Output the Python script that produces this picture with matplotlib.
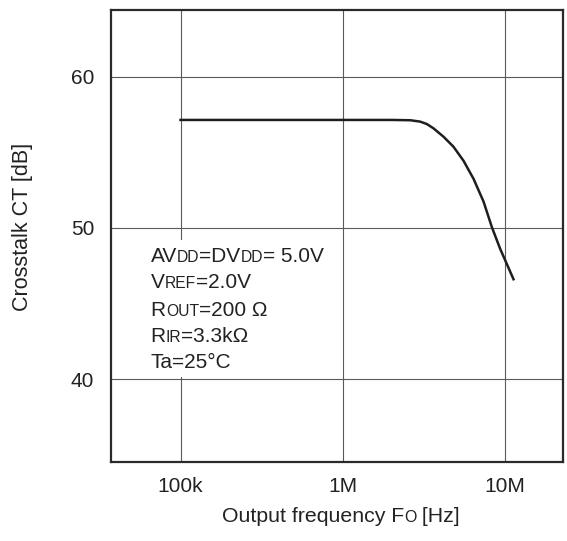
import numpy as np
import matplotlib
matplotlib.use('Agg')
import matplotlib.pyplot as plt
import matplotlib.transforms as mtransforms
from matplotlib.patches import Rectangle

plt.rcParams['font.family'] = ['Liberation Sans', 'DejaVu Sans']

# crosstalk curve
freq = [100e3, 300e3, 1e6, 2.0e6, 2.6e6, 2.99e6, 3.29e6, 3.61e6, 4.17e6,
        4.8e6, 5.53e6, 6.38e6, 7.35e6, 8.28e6, 9.31e6, 11.25e6]
ct = [57.14, 57.14, 57.14, 57.14, 57.12, 57.03, 56.87, 56.59, 56.03,
      55.37, 54.45, 53.25, 51.75, 50.05, 48.62, 46.61]

xticks = [1e5, 1e6, 1e7]
xticklabels = ['100k', '1M', '10M']
yticks = [40, 50, 60]

# condition lines: list of (text, small caps?) pieces
conditions = [
    [('AV', False), ('DD', True), ('=DV', False), ('DD', True), ('= 5.0V', False)],
    [('V', False), ('REF', True), ('=2.0V', False)],
    [('R', False), ('OUT', True), ('=200 \u03a9', False)],
    [('R', False), ('IR', True), ('=3.3k\u03a9', False)],
    [('Ta=25\u00b0C', False)],
]

W, H = 567, 541
fig = plt.figure(figsize=(W / 100, H / 100), dpi=100)
ax = fig.add_axes([111 / W, 1 - 462 / H, (563 - 111) / W, (462 - 9.5) / H])

ax.set_xscale('log')
ax.set_xlim(37.3e3, 22.7e6)
ax.set_ylim(34.53, 64.44)
ax.set_xticks(xticks)
ax.set_xticklabels(xticklabels)
ax.set_yticks(yticks)
ax.xaxis.set_minor_locator(matplotlib.ticker.NullLocator())
ax.tick_params(length=0, labelsize=15, colors='#222222')
ax.tick_params(axis='x', pad=11)
ax.tick_params(axis='y', pad=12)
ax.grid(True, color='#5a5a5a', lw=0.8)
ax.set_axisbelow(True)
for s in ax.spines.values():
    s.set_linewidth(1.6)
    s.set_color('#2a2a2a')

# white panel behind the conditions text
ax.add_patch(Rectangle((56e3, 40.15), 1.0e6 - 56e3, 49.21 - 40.15,
                       facecolor='white', edgecolor='none', zorder=1.5))

ax.plot(freq, ct, color='#1e1e1e', lw=1.8, zorder=3)

fig.canvas.draw()
renderer = fig.canvas.get_renderer()


def pieces(x, y, parts, fs, trans, small=0.75):
    t = trans
    for s, sc in parts:
        txt = fig.text(x, y, s, transform=t, va='baseline', ha='left',
                       fontsize=fs * small if sc else fs, color='#222222', zorder=5)
        ex = txt.get_window_extent(renderer)
        t = mtransforms.offset_copy(txt.get_transform(), fig=fig, x=ex.width, units='dots')


# condition text, baselines in pixels from top
base = [262, 288.3, 316, 341.7, 368.3]
for parts, yb in zip(conditions, base):
    pieces(150.7 / W, 1 - yb / H, parts, 15, fig.transFigure)

# axis labels
pieces(221.7 / W, 1 - 522.5 / H, [('Output frequency F', False), ('O', True), (' [Hz]', False)],
       15.3, fig.transFigure)
fig.text(23 / W, 1 - 227 / H, 'Crosstalk CT [dB]', rotation=90, ha='center', va='center',
         fontsize=15.5, color='#222222')

fig.savefig('out.png', dpi=100)
